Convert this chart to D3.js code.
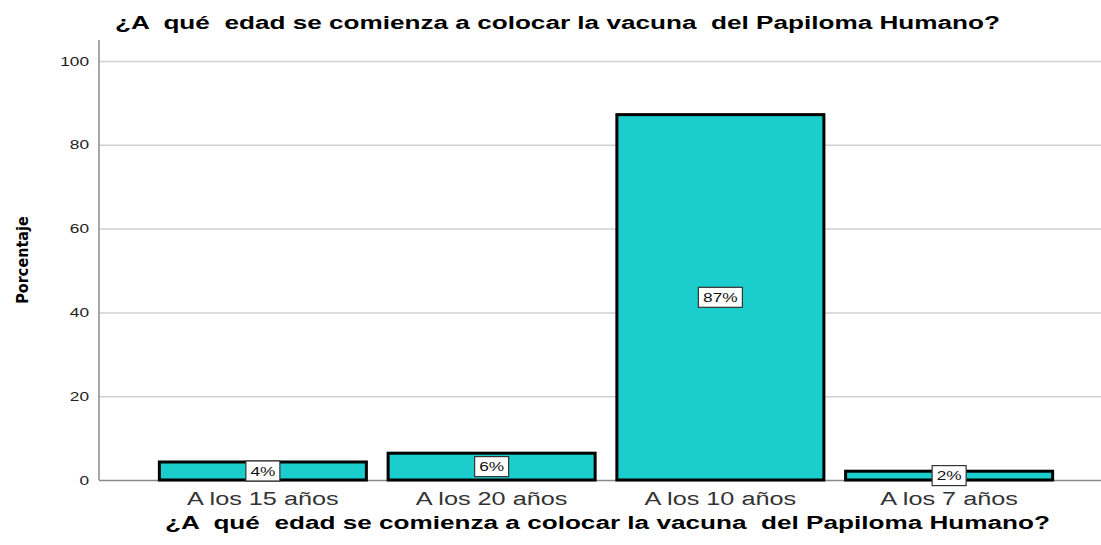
<!DOCTYPE html>
<meta charset="utf-8">
<script src="https://d3js.org/d3.v7.min.js"></script>
<style>
  body { margin: 0; background: #fff; }
  text { font-family: "Liberation Sans", Arial, sans-serif; }
</style>
<div id="my_dataviz"></div>
<script>

// data
var categories = ["A los 15 años", "A los 20 años", "A los 10 años", "A los 7 años"];
var percentages = [4.3, 6.4, 87.2, 2.1];
var labels = ["4%", "6%", "87%", "2%"];
var yTicks = [0, 20, 40, 60, 80, 100];
var title = "¿A  qué  edad se comienza a colocar la vacuna  del Papiloma Humano?";

var W = 1101, H = 545;
var svg = d3.select("#my_dataviz")
  .append("svg")
    .attr("width", W)
    .attr("height", H);

var axisX = 99, y0 = 480;
var stretch = 1.33; // text in the original is drawn wide

var y = d3.scaleLinear()
  .domain([0, 100])
  .range([y0, 61]);

var x = d3.scaleBand()
  .domain(categories)
  .range([148.5, 1063.5])
  .paddingInner(0.095)
  .paddingOuter(0.0475);

// grid lines
svg.selectAll(".grid")
  .data(yTicks)
  .enter()
  .append("line")
    .attr("x1", axisX)
    .attr("x2", W)
    .attr("y1", function(d) { return y(d) + 0.5; })
    .attr("y2", function(d) { return y(d) + 0.5; })
    .attr("stroke", function(d) { return d === 0 ? "#8a8a8a" : "#d0d0d0"; })
    .attr("stroke-width", 1.5);

// y axis line
svg.append("line")
  .attr("x1", axisX).attr("x2", axisX)
  .attr("y1", 40).attr("y2", y0)
  .attr("stroke", "#8a8a8a")
  .attr("stroke-width", 1.5);

// y tick labels
svg.selectAll(".ytick")
  .data(yTicks)
  .enter()
  .append("text")
    .attr("transform", function(d) { return "translate(89," + y(d) + ")scale(" + stretch + ",1)"; })
    .attr("dy", "0.35em")
    .attr("text-anchor", "end")
    .attr("font-size", 13)
    .attr("fill", "#222")
    .text(function(d) { return d; });

// bars
svg.selectAll(".bar")
  .data(categories)
  .enter()
  .append("rect")
    .attr("x", function(d) { return x(d); })
    .attr("y", function(d, i) { return y(percentages[i]); })
    .attr("width", x.bandwidth())
    .attr("height", function(d, i) { return y0 - y(percentages[i]); })
    .attr("fill", "#1ccdcd")
    .attr("stroke", "#000")
    .attr("stroke-width", 3);

// value labels
var lab = svg.selectAll(".lab")
  .data(categories)
  .enter()
  .append("g")
    .attr("transform", function(d, i) {
      return "translate(" + (x(d) + x.bandwidth() / 2) + "," + y(percentages[i] / 2) + ")";
    });
lab.append("rect")
  .attr("x", function(d, i) { return labels[i].length > 2 ? -22 : -17; })
  .attr("y", -10)
  .attr("width", function(d, i) { return labels[i].length > 2 ? 44 : 34; })
  .attr("height", 20)
  .attr("fill", "#fff")
  .attr("stroke", "#333")
  .attr("stroke-width", 1.2);
lab.append("text")
  .attr("transform", "scale(" + stretch + ",1)")
  .attr("text-anchor", "middle")
  .attr("dy", "0.36em")
  .attr("font-size", 13)
  .attr("fill", "#111")
  .text(function(d, i) { return labels[i]; });

// category labels
svg.selectAll(".xtick")
  .data(categories)
  .enter()
  .append("text")
    .attr("transform", function(d) {
      return "translate(" + (x(d) + x.bandwidth() / 2) + ",505)scale(" + stretch + ",1)";
    })
    .attr("text-anchor", "middle")
    .attr("font-size", 19)
    .attr("fill", "#333")
    .text(function(d) { return d; });

// titles
svg.append("text")
  .attr("x", 115)
  .attr("y", 29)
  .attr("font-size", 18)
  .attr("font-weight", "bold")
  .attr("textLength", 885)
  .attr("lengthAdjust", "spacingAndGlyphs")
  .style("white-space", "pre")
  .text(title);

svg.append("text")
  .attr("x", 165)
  .attr("y", 529)
  .attr("font-size", 18)
  .attr("font-weight", "bold")
  .attr("textLength", 885)
  .attr("lengthAdjust", "spacingAndGlyphs")
  .style("white-space", "pre")
  .text(title);

svg.append("text")
  .attr("transform", "translate(28,260)rotate(-90)")
  .attr("text-anchor", "middle")
  .attr("font-size", 16)
  .attr("font-weight", "bold")
  .style("font-family", "'Liberation Sans Narrow', 'DejaVu Sans Condensed', sans-serif")
  .text("Porcentaje");

</script>
